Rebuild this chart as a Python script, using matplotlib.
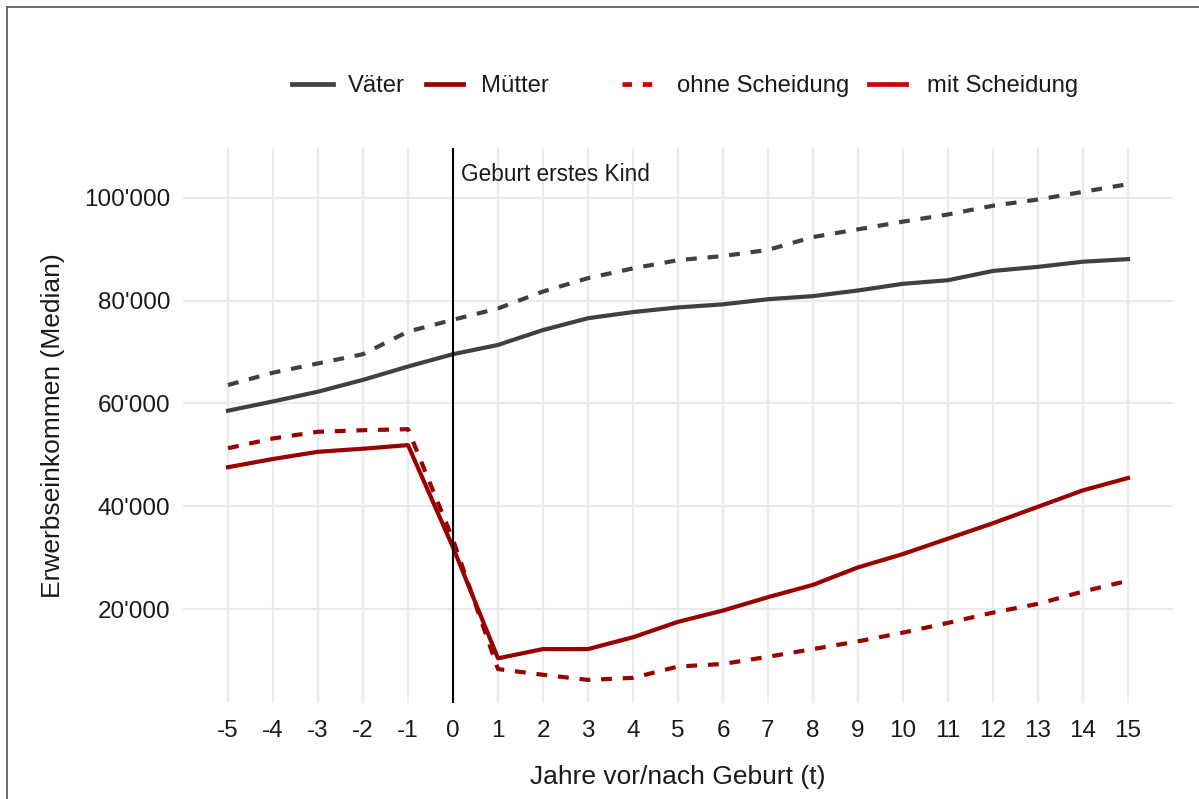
import matplotlib
matplotlib.use("Agg")
import matplotlib.pyplot as plt
from matplotlib.lines import Line2D
from matplotlib.ticker import FuncFormatter

plt.rcParams["font.family"] = ["Liberation Sans", "DejaVu Sans"]
plt.rcParams["axes.unicode_minus"] = False

# Years relative to the birth of the first child
jahre = list(range(-5, 16))

# Median earnings, fathers
vaeter_ohne = [63600, 66000, 67800, 69600, 74000, 76300, 78500, 81800, 84400, 86300, 87900,
               88700, 89900, 92400, 93900, 95400, 96800, 98500, 99700, 101200, 102700]
vaeter_mit = [58600, 60400, 62300, 64600, 67200, 69600, 71400, 74300, 76600, 77800, 78700,
              79300, 80300, 80900, 82000, 83300, 84000, 85800, 86600, 87600, 88100]

# Median earnings, mothers
muetter_ohne = [51300, 53200, 54500, 54800, 55000, 33500, 8300, 7200, 6200, 6600, 8800,
                9300, 10700, 12200, 13700, 15400, 17300, 19300, 21000, 23400, 25500]
muetter_mit = [47600, 49200, 50600, 51200, 51900, 32000, 10400, 12200, 12200, 14500, 17500,
               19700, 22300, 24700, 28100, 30700, 33700, 36700, 39900, 43100, 45500]

y_ticks = [20000, 40000, 60000, 80000, 100000]

grau = "#404040"
rot_dunkel = "#990000"
rot_hell = "#CC0000"
text_farbe = "#1a1a1a"

W, H = 1199, 799
fig = plt.figure(figsize=(W / 100, H / 100), dpi=100)
fig.patch.set_facecolor("white")

ax = fig.add_axes([183 / W, (H - 703) / H, (1173 - 183) / W, (703 - 148) / H])
ax.set_facecolor("white")

lw = 3.0
dash = (0, (2.6, 2.6))
ax.plot(jahre, vaeter_ohne, color=grau, lw=lw, linestyle=dash, zorder=3)
ax.plot(jahre, vaeter_mit, color=grau, lw=lw, zorder=3)
ax.plot(jahre, muetter_ohne, color=rot_dunkel, lw=lw, linestyle=dash, zorder=3)
ax.plot(jahre, muetter_mit, color=rot_dunkel, lw=lw, zorder=3)

ax.axvline(0, color="black", lw=1.5, zorder=4)
ax.text(0.18, 104500, "Geburt erstes Kind", fontsize=16.3, color=text_farbe,
        ha="left", va="center")

ax.set_xlim(-6, 16)
y_px = lambda p: (711.75 - p) / 5.1375 * 1000
ax.set_ylim(y_px(703), y_px(148))
ax.set_xticks(jahre)
ax.set_xticklabels([str(j) for j in jahre])
ax.set_yticks(y_ticks)
ax.yaxis.set_major_formatter(FuncFormatter(lambda v, _: f"{int(v):,}".replace(",", "'")))
ax.grid(True, color="#EBEBEB", lw=1.6)
ax.set_axisbelow(True)
for s in ax.spines.values():
    s.set_visible(False)
ax.tick_params(length=0, labelsize=17.5, colors=text_farbe)
ax.tick_params(axis="y", pad=9)
ax.tick_params(axis="x", pad=12)
ax.set_xlabel("Jahre vor/nach Geburt (t)", fontsize=19, color=text_farbe, labelpad=17)
ax.set_ylabel("Erwerbseinkommen (Median)", fontsize=19, color=text_farbe, labelpad=14)

# Legend drawn at the figure level
def fx(px):
    return px / W

def fy(py):
    return (H - py) / H

ly = 84
keys = [
    (292, 333, grau, "-", "Väter", 348),
    (426, 463, rot_dunkel, "-", "Mütter", 481),
    (622, 655, rot_hell, (0, (2.0, 2.3)), "ohne Scheidung", 677),
    (869, 906, rot_hell, "-", "mit Scheidung", 927),
]
for x0, x1, c, ls, lab, tx in keys:
    fig.add_artist(Line2D([fx(x0), fx(x1)], [fy(ly), fy(ly)], color=c, lw=3.4,
                          linestyle=ls, transform=fig.transFigure))
    fig.text(fx(tx), fy(ly + 2), lab, fontsize=17.2, color=text_farbe, ha="left", va="center")

# Outer frame (top and left edges)
fig.add_artist(Line2D([fx(7), fx(W)], [fy(7), fy(7)], color="#606060", lw=1.3,
                      transform=fig.transFigure))
fig.add_artist(Line2D([fx(7), fx(7)], [fy(7), fy(H)], color="#606060", lw=1.3,
                      transform=fig.transFigure))

fig.savefig("out.png", dpi=100, facecolor="white")
